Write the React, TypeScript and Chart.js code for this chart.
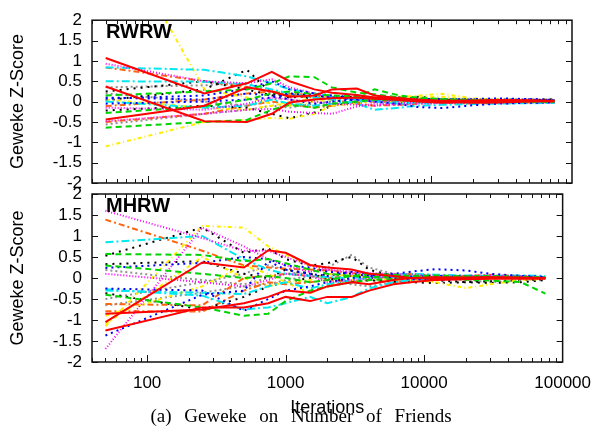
import { useEffect, useRef } from 'react';
import { Chart, registerables } from 'chart.js';

Chart.register(...registerables);

// Iterations at which the Geweke Z-score was sampled
const ITERATIONS = [50, 250, 500, 750, 1000, 1500, 2000, 3000, 4000, 6000, 8000, 12000, 20000, 30000, 50000, 75000];
const X_TICKS = [100, 1000, 10000, 100000];
const Y_MIN = -2;
const Y_MAX = 2;
const Y_STEP = 0.5;

// ---- RWRW panel ----
const RW_RED_1 = [1.07, 0.2, 0.45, 0.73, 0.5, 0.3, 0.22, 0.16, 0.1, 0.08, 0.04, 0.02, 0.03, 0.04, 0.03, 0.02];
const RW_RED_2 = [0.37, -0.48, -0.5, -0.3, -0.02, 0.05, 0.08, 0.1, 0.07, 0.04, 0.0, -0.03, -0.01, 0.02, 0.03, 0.01];
const RW_RED_3 = [-0.44, -0.1, 0.35, 0.25, 0.12, 0.15, 0.3, 0.32, 0.15, 0.08, 0.05, 0.01, -0.03, -0.02, 0.0, 0.01];
const RW_GREEN_1 = [0.15, 0.25, 0.3, 0.45, 0.62, 0.6, 0.35, 0.22, 0.18, 0.1, 0.07, 0.05, 0.03, 0.02, 0.01, 0.0];
const RW_GREEN_2 = [-0.28, -0.12, 0.05, 0.2, 0.25, 0.18, 0.15, 0.12, 0.3, 0.15, 0.1, 0.06, 0.04, 0.02, 0.0, 0.01];
const RW_GREEN_3 = [-0.64, -0.5, -0.45, -0.2, -0.08, -0.15, -0.05, 0.0, 0.05, 0.03, 0.02, 0.0, -0.02, -0.01, 0.0, -0.01];
const RW_BLUE_1 = [0.07, 0.15, 0.32, 0.5, 0.3, 0.2, 0.15, 0.1, 0.06, 0.04, 0.05, 0.06, 0.05, 0.04, 0.05, 0.03];
const RW_BLUE_2 = [-0.05, 0.0, 0.05, 0.1, 0.2, 0.15, 0.1, 0.04, 0.0, -0.06, -0.13, -0.16, -0.09, -0.05, -0.03, -0.02];
const RW_BLUE_3 = [0.1, 0.05, 0.2, 0.15, 0.05, -0.05, 0.0, 0.05, 0.08, 0.1, 0.08, 0.05, 0.06, 0.08, 0.06, 0.04];
const RW_MAGENTA_1 = [0.93, 0.5, 0.45, 0.55, 0.35, 0.2, 0.1, 0.05, 0.0, 0.02, 0.03, 0.0, 0.01, 0.0, 0.01, 0.0];
const RW_MAGENTA_2 = [-0.48, -0.3, -0.2, -0.18, -0.25, -0.28, -0.3, -0.12, -0.05, -0.08, -0.05, -0.04, -0.02, -0.03, -0.02, -0.02];
const RW_MAGENTA_3 = [-0.15, -0.2, -0.05, 0.1, 0.05, 0.0, -0.05, -0.08, -0.1, -0.04, 0.0, 0.02, 0.0, -0.01, 0.0, 0.01];
const RW_CYAN_1 = [0.84, 0.78, 0.62, 0.45, 0.3, 0.2, 0.12, 0.05, 0.0, -0.05, -0.03, -0.02, -0.01, 0.0, -0.01, -0.02];
const RW_CYAN_2 = [0.5, 0.49, 0.42, 0.3, 0.2, 0.1, 0.05, -0.05, -0.2, -0.15, -0.1, -0.08, -0.06, -0.05, -0.04, -0.03];
const RW_CYAN_3 = [0.0, -0.15, -0.1, 0.05, -0.05, -0.1, -0.05, 0.0, 0.03, 0.0, -0.02, -0.04, -0.03, -0.02, -0.03, -0.03];
const RW_YELLOW_1 = [-1.1, -0.5, -0.45, -0.4, -0.42, -0.3, -0.1, -0.05, 0.05, 0.1, 0.15, 0.19, 0.08, 0.04, 0.02, 0.01];
const RW_YELLOW_2 = [4.6, 0.3, 0.1, -0.05, -0.1, 0.0, 0.05, 0.1, 0.1, 0.12, 0.1, 0.12, 0.06, 0.05, 0.04, 0.03];
const RW_YELLOW_3 = [0.05, -0.15, -0.2, -0.1, 0.0, 0.08, 0.15, 0.1, 0.02, -0.02, 0.0, 0.03, 0.02, 0.01, 0.02, 0.0];
const RW_BLACK_1 = [0.03, 0.3, 0.78, 0.2, 0.1, 0.15, 0.1, 0.12, 0.1, 0.08, 0.05, 0.05, 0.04, 0.05, 0.05, 0.04];
const RW_BLACK_2 = [-0.22, -0.1, -0.15, -0.3, -0.41, -0.27, -0.1, 0.0, 0.05, 0.1, 0.12, 0.06, 0.05, 0.04, 0.05, 0.05];
const RW_BLACK_3 = [0.25, 0.5, 0.3, 0.15, 0.2, 0.05, 0.1, 0.15, 0.08, 0.06, 0.04, 0.03, 0.02, 0.03, 0.04, 0.05];
const RW_ORANGE_1 = [0.84, 0.5, 0.35, 0.25, 0.2, 0.15, 0.1, 0.08, 0.05, 0.05, 0.03, 0.02, 0.0, -0.01, 0.0, 0.0];
const RW_ORANGE_2 = [-0.11, 0.05, 0.2, 0.25, 0.15, 0.1, 0.05, -0.05, -0.1, -0.08, -0.05, -0.03, -0.05, -0.03, -0.02, 0.0];
const RW_ORANGE_3 = [-0.5, -0.3, -0.1, 0.0, -0.05, -0.15, -0.1, -0.02, 0.0, 0.02, 0.0, -0.02, -0.01, 0.0, -0.01, 0.0];
const RW_GRAY_1 = [0.35, 0.4, 0.45, 0.2, 0.15, 0.12, 0.1, 0.12, 0.1, 0.07, 0.05, 0.04, 0.03, 0.03, 0.02, 0.03];
const RW_GRAY_2 = [-0.56, -0.3, -0.2, -0.1, -0.15, -0.05, 0.0, 0.05, 0.02, 0.0, 0.03, 0.02, 0.0, 0.01, 0.02, 0.01];
const RW_GRAY_3 = [0.2, 0.0, -0.1, 0.05, 0.1, 0.2, 0.12, 0.05, 0.0, -0.03, -0.02, 0.0, 0.02, 0.02, 0.01, 0.02];

// ---- MHRW panel ----
const MH_RED_1 = [-1.05, 0.37, 0.25, 0.66, 0.6, 0.31, 0.25, 0.2, 0.1, 0.05, 0.0, -0.02, 0.0, 0.01, 0.0, 0.0];
const MH_RED_2 = [-1.25, -0.7, -0.7, -0.6, -0.45, -0.55, -0.45, -0.45, -0.3, -0.15, -0.1, -0.05, -0.03, -0.02, -0.01, -0.02];
const MH_RED_3 = [-0.85, -0.75, -0.6, -0.45, -0.3, -0.35, -0.2, -0.1, -0.15, -0.05, 0.0, 0.02, 0.01, 0.02, 0.01, 0.0];
const MH_GREEN_1 = [0.57, 0.55, 0.4, 0.45, 0.35, 0.2, 0.1, 0.05, 0.02, 0.03, 0.05, 0.06, 0.04, 0.05, 0.03, 0.02];
const MH_GREEN_2 = [0.3, 0.1, 0.0, 0.05, 0.0, -0.1, -0.05, 0.05, 0.1, 0.08, 0.05, 0.0, -0.04, -0.06, -0.1, -0.37];
const MH_GREEN_3 = [-0.4, -0.7, -0.9, -0.85, -0.55, -0.3, -0.2, -0.1, -0.05, -0.02, 0.0, 0.02, 0.03, 0.02, 0.01, 0.0];
const MH_BLUE_1 = [0.24, 0.36, 0.5, 0.45, 0.3, 0.25, 0.15, 0.1, 0.05, 0.1, 0.15, 0.21, 0.18, 0.1, 0.05, 0.03];
const MH_BLUE_2 = [-0.25, -0.3, -0.78, -0.5, -0.3, -0.2, -0.1, 0.0, 0.05, 0.0, -0.03, -0.05, -0.02, 0.0, 0.01, 0.0];
const MH_BLUE_3 = [-1.37, -0.4, -0.3, 0.4, 0.2, 0.1, 0.05, 0.15, 0.1, 0.05, 0.03, 0.05, 0.04, 0.02, 0.03, 0.02];
const MH_MAGENTA_1 = [1.6, 0.95, 0.65, 0.65, 0.5, 0.3, 0.2, 0.15, 0.12, 0.1, 0.08, 0.06, 0.05, 0.06, 0.04, 0.02];
const MH_MAGENTA_2 = [-1.69, 1.2, 0.75, 0.45, 0.3, 0.15, 0.2, 0.1, 0.05, 0.0, -0.02, 0.0, 0.03, 0.05, 0.03, 0.01];
const MH_MAGENTA_3 = [0.1, -0.1, -0.2, -0.05, 0.1, 0.05, -0.1, -0.05, 0.0, 0.03, 0.05, 0.02, 0.0, 0.01, 0.02, 0.0];
const MH_CYAN_1 = [0.85, 1.0, 0.45, 0.2, 0.1, 0.05, 0.02, 0.0, 0.05, 0.08, 0.1, 0.08, 0.06, 0.05, 0.06, 0.05];
const MH_CYAN_2 = [-0.27, -0.42, -0.75, -0.7, -0.6, -0.45, -0.6, -0.45, -0.25, -0.1, -0.05, 0.0, 0.02, 0.01, 0.02, 0.0];
const MH_CYAN_3 = [-0.3, -0.35, -0.38, -0.2, -0.1, -0.25, -0.15, -0.05, 0.0, 0.02, 0.03, 0.05, 0.04, 0.03, 0.04, 0.02];
const MH_YELLOW_1 = [-1.15, 1.24, 1.2, 0.75, 0.55, 0.3, 0.2, 0.1, 0.05, 0.0, -0.05, -0.1, -0.24, -0.15, -0.05, -0.02];
const MH_YELLOW_2 = [-1.1, 0.5, 0.0, -0.2, -0.1, -0.05, 0.1, 0.05, 0.0, -0.05, 0.0, 0.02, 0.0, -0.02, 0.0, 0.01];
const MH_YELLOW_3 = [-0.9, -0.2, 0.3, 0.1, -0.1, -0.36, -0.2, -0.05, 0.0, 0.05, 0.04, 0.02, 0.03, 0.02, 0.01, 0.02];
const MH_BLACK_1 = [0.53, 1.2, 0.6, 0.7, 0.45, 0.3, 0.35, 0.5, 0.2, 0.05, 0.0, -0.05, -0.1, -0.08, -0.05, -0.03];
const MH_BLACK_2 = [0.33, 0.4, 0.1, 0.0, 0.2, 0.1, 0.0, -0.1, -0.05, -0.08, -0.1, -0.12, -0.1, -0.12, -0.1, -0.05];
const MH_BLACK_3 = [-0.36, -0.75, -0.45, -0.2, -0.1, 0.0, 0.1, 0.05, 0.0, 0.02, 0.05, 0.04, 0.02, 0.01, 0.0, -0.02];
const MH_ORANGE_1 = [1.39, 0.65, 0.3, 0.25, 0.22, 0.2, 0.18, 0.12, 0.1, 0.08, 0.1, 0.05, 0.03, 0.02, 0.01, 0.0];
const MH_ORANGE_2 = [-0.62, -0.65, 0.0, 0.05, 0.1, 0.05, 0.0, 0.05, 0.02, 0.0, -0.02, 0.0, 0.05, 0.08, 0.05, 0.02];
const MH_ORANGE_3 = [-0.79, -0.8, -0.3, -0.1, -0.15, -0.1, -0.05, -0.08, -0.05, -0.1, -0.05, -0.02, 0.0, 0.02, 0.0, -0.01];
const MH_GRAY_1 = [0.19, -0.05, -0.15, 0.0, 0.1, 0.15, 0.25, 0.55, 0.25, 0.1, 0.05, 0.0, -0.05, -0.1, -0.05, -0.02];
const MH_GRAY_2 = [-0.5, -0.1, 0.1, 0.3, 0.2, 0.05, -0.05, -0.15, -0.2, -0.1, -0.05, 0.0, 0.02, 0.03, 0.02, 0.0];
const MH_GRAY_3 = [-0.65, -0.35, -0.2, -0.15, -0.05, 0.05, 0.0, -0.05, 0.0, 0.05, 0.02, 0.0, -0.02, 0.0, 0.01, 0.0];

// gnuplot-like line types
const STYLES: Record<string, { color: string; dash: number[] }> = {
  red: { color: '#ff0000', dash: [] },
  green: { color: '#00d400', dash: [6, 4] },
  blue: { color: '#0000ff', dash: [2, 4] },
  magenta: { color: '#ff00ff', dash: [1, 2] },
  cyan: { color: '#00e8f0', dash: [8, 3, 2, 3] },
  yellow: { color: '#ffee00', dash: [4, 3, 1, 3] },
  black: { color: '#000000', dash: [2, 5] },
  orange: { color: '#ff6410', dash: [6, 3, 2, 3] },
  gray: { color: '#909090', dash: [2, 3] },
};

const RW_SERIES: [string, number[]][] = [
  ['red', RW_RED_1], ['red', RW_RED_2], ['red', RW_RED_3],
  ['green', RW_GREEN_1], ['green', RW_GREEN_2], ['green', RW_GREEN_3],
  ['blue', RW_BLUE_1], ['blue', RW_BLUE_2], ['blue', RW_BLUE_3],
  ['magenta', RW_MAGENTA_1], ['magenta', RW_MAGENTA_2], ['magenta', RW_MAGENTA_3],
  ['cyan', RW_CYAN_1], ['cyan', RW_CYAN_2], ['cyan', RW_CYAN_3],
  ['yellow', RW_YELLOW_1], ['yellow', RW_YELLOW_2], ['yellow', RW_YELLOW_3],
  ['black', RW_BLACK_1], ['black', RW_BLACK_2], ['black', RW_BLACK_3],
  ['orange', RW_ORANGE_1], ['orange', RW_ORANGE_2], ['orange', RW_ORANGE_3],
  ['gray', RW_GRAY_1], ['gray', RW_GRAY_2], ['gray', RW_GRAY_3],
];

const MH_SERIES: [string, number[]][] = [
  ['red', MH_RED_1], ['red', MH_RED_2], ['red', MH_RED_3],
  ['green', MH_GREEN_1], ['green', MH_GREEN_2], ['green', MH_GREEN_3],
  ['blue', MH_BLUE_1], ['blue', MH_BLUE_2], ['blue', MH_BLUE_3],
  ['magenta', MH_MAGENTA_1], ['magenta', MH_MAGENTA_2], ['magenta', MH_MAGENTA_3],
  ['cyan', MH_CYAN_1], ['cyan', MH_CYAN_2], ['cyan', MH_CYAN_3],
  ['yellow', MH_YELLOW_1], ['yellow', MH_YELLOW_2], ['yellow', MH_YELLOW_3],
  ['black', MH_BLACK_1], ['black', MH_BLACK_2], ['black', MH_BLACK_3],
  ['orange', MH_ORANGE_1], ['orange', MH_ORANGE_2], ['orange', MH_ORANGE_3],
  ['gray', MH_GRAY_1], ['gray', MH_GRAY_2], ['gray', MH_GRAY_3],
];

const W = 602;
const H = 437;
const PLOT_LEFT = 92;
const PLOT_RIGHT = 572;
const SANS = '"Liberation Sans", Arial, Helvetica, sans-serif';
const SERIF = '"Liberation Serif", "Times New Roman", serif';

function framePlugin(label: string, isBottom: boolean) {
  return {
    id: 'frame_' + label,
    afterDraw(chart: any) {
      const { ctx, chartArea } = chart;
      const { left, right, top, bottom } = chartArea;
      const xs = chart.scales.x;
      const ys = chart.scales.y;
      ctx.save();
      ctx.strokeStyle = '#111';
      ctx.lineWidth = 1.5;
      ctx.setLineDash([]);
      ctx.strokeRect(left, top, right - left, bottom - top);
      ctx.lineWidth = 1;
      ctx.beginPath();
      for (const dec of [10, 100, 1000, 10000]) {
        for (let m = 1; m <= 9; m++) {
          const v = m * dec;
          if (v < 40 || v > 100000) continue;
          const px = Math.round(xs.getPixelForValue(v)) + 0.5;
          const len = m === 1 ? 7 : 4;
          ctx.moveTo(px, bottom);
          ctx.lineTo(px, bottom - len);
          ctx.moveTo(px, top);
          ctx.lineTo(px, top + len);
        }
      }
      for (let v = Y_MIN; v <= Y_MAX + 1e-9; v += Y_STEP) {
        const py = Math.round(ys.getPixelForValue(v)) + 0.5;
        ctx.moveTo(left, py);
        ctx.lineTo(left + 6, py);
        ctx.moveTo(right, py);
        ctx.lineTo(right - 6, py);
      }
      ctx.stroke();

      // panel label
      ctx.fillStyle = '#000';
      ctx.font = 'bold 20px ' + SANS;
      ctx.textAlign = 'left';
      ctx.textBaseline = 'alphabetic';
      ctx.fillText(label, 106, top + 18);

      // y axis title
      ctx.save();
      ctx.translate(18, (top + bottom) / 2);
      ctx.rotate(-Math.PI / 2);
      ctx.font = '18px ' + SANS;
      ctx.textAlign = 'center';
      ctx.textBaseline = 'middle';
      ctx.fillText('Geweke Z-Score', 0, 0);
      ctx.restore();

      if (isBottom) {
        ctx.font = '18px ' + SANS;
        ctx.textAlign = 'center';
        ctx.textBaseline = 'alphabetic';
        ctx.fillText('Iterations', (left + right) / 2, 413);
        ctx.font = '19px ' + SERIF;
        try { (ctx as any).wordSpacing = '8px'; } catch (e) { /* ignore */ }
        ctx.fillText('(a) Geweke on Number of Friends', W / 2, 422);
      }
      ctx.restore();
    },
  };
}

function makeConfig(series: [string, number[]][], top: number, bottom: number, label: string, isBottom: boolean): any {
  const datasets = series.map(([style, values], i) => ({
    label: label + '_' + style + '_' + i,
    data: ITERATIONS.map((x, k) => ({ x, y: values[k] })),
    borderColor: STYLES[style].color,
    borderDash: STYLES[style].dash,
    borderWidth: 2,
    pointRadius: 0,
    tension: 0,
    fill: false,
    clip: 0,
  }));
  return {
    type: 'line',
    data: { datasets },
    options: {
      responsive: false,
      animation: false,
      devicePixelRatio: 1,
      layout: { padding: { top, left: 0, right: W - PLOT_RIGHT, bottom: 0 } },
      plugins: { legend: { display: false }, tooltip: { enabled: false } },
      scales: {
        x: {
          type: 'logarithmic',
          min: 40,
          max: 100000,
          grid: { display: false, drawTicks: false },
          border: { display: false },
          ticks: {
            display: isBottom,
            autoSkip: false,
            maxRotation: 0,
            padding: 11,
            color: '#000',
            font: { family: SANS, size: 17 },
            callback: (v: number) => String(v),
          },
          afterBuildTicks: (s: any) => {
            s.ticks = X_TICKS.map((v) => ({ value: v }));
          },
          afterFit: (s: any) => {
            s.height = H - bottom;
          },
        },
        y: {
          min: Y_MIN,
          max: Y_MAX,
          grid: { display: false, drawTicks: false },
          border: { display: false },
          ticks: {
            stepSize: Y_STEP,
            autoSkip: false,
            padding: 10,
            color: '#000',
            font: { family: SANS, size: 17 },
            callback: (v: number) => String(Math.round(v * 10) / 10),
          },
          afterFit: (s: any) => {
            s.width = PLOT_LEFT;
          },
        },
      },
    },
    plugins: [framePlugin(label, isBottom)],
  };
}

export default function App() {
  const topRef = useRef<HTMLCanvasElement>(null);
  const botRef = useRef<HTMLCanvasElement>(null);
  useEffect(() => {
    document.body.style.margin = '0';
    const c1 = new Chart(topRef.current as HTMLCanvasElement, makeConfig(RW_SERIES, 13, 183, 'RWRW', false));
    const c2 = new Chart(botRef.current as HTMLCanvasElement, makeConfig(MH_SERIES, 194, 362, 'MHRW', true));
    return () => {
      c1.destroy();
      c2.destroy();
    };
  }, []);
  return (
    <div style={{ position: 'fixed', left: 0, top: 0, width: W, height: H, background: '#fff' }}>
      <canvas ref={topRef} width={W} height={H} style={{ position: 'absolute', left: 0, top: 0 }} />
      <canvas ref={botRef} width={W} height={H} style={{ position: 'absolute', left: 0, top: 0 }} />
    </div>
  );
}
